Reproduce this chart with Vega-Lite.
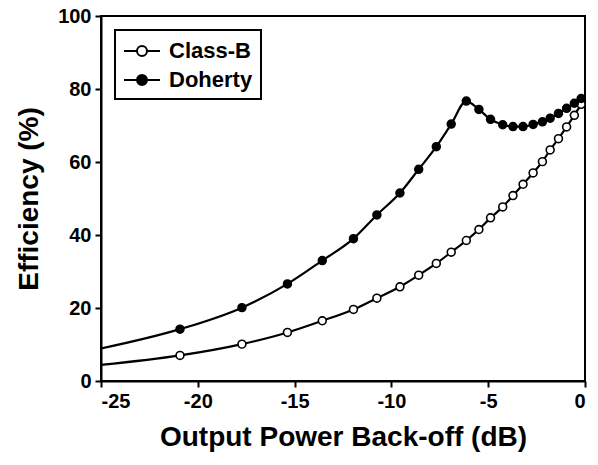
{
  "$schema": "https://vega.github.io/schema/vega-lite/v6.json",
  "width": 484,
  "height": 365,
  "autosize": {"type": "none"},
  "padding": {"left": 101, "top": 16, "right": 13, "bottom": 84},
  "background": "white",
  "config": {
    "font": "Liberation Sans",
    "view": {"stroke": "black", "strokeWidth": 2},
    "axis": {
      "grid": false,
      "domainColor": "black",
      "domainWidth": 2,
      "tickColor": "black",
      "tickWidth": 2,
      "tickSize": 6,
      "labelFont": "Liberation Sans",
      "labelFontWeight": "bold",
      "labelFontSize": 20,
      "labelColor": "black",
      "labelPadding": 4,
      "labelExpr": "toString(datum.value)",
      "titleFont": "Liberation Sans",
      "titleFontWeight": "bold",
      "titleFontSize": 28,
      "titleColor": "black"
    },
    "legend": {
      "padding": 8,
      "rowPadding": 5,
      "strokeColor": "black",
      "strokeWidth": 2,
      "fillColor": "white",
      "cornerRadius": 0,
      "symbolSize": 576,
      "symbolStrokeColor": "black",
      "symbolStrokeWidth": 2,
      "symbolOpacity": 1,
      "labelOffset": 20,
      "labelFont": "Liberation Sans",
      "labelFontWeight": "bold",
      "labelFontSize": 22,
      "labelColor": "black"
    }
  },
  "datasets": {
    "curves": [
      {"backoff": -25, "eff": 4.4, "series": "Class-B", "marker": false},
      {"backoff": -20.92, "eff": 7.0, "series": "Class-B", "marker": true},
      {"backoff": -17.72, "eff": 10.1, "series": "Class-B", "marker": true},
      {"backoff": -15.37, "eff": 13.3, "series": "Class-B", "marker": true},
      {"backoff": -13.57, "eff": 16.5, "series": "Class-B", "marker": true},
      {"backoff": -11.96, "eff": 19.6, "series": "Class-B", "marker": true},
      {"backoff": -10.75, "eff": 22.7, "series": "Class-B", "marker": true},
      {"backoff": -9.56, "eff": 25.8, "series": "Class-B", "marker": true},
      {"backoff": -8.59, "eff": 29.0, "series": "Class-B", "marker": true},
      {"backoff": -7.68, "eff": 32.2, "series": "Class-B", "marker": true},
      {"backoff": -6.91, "eff": 35.3, "series": "Class-B", "marker": true},
      {"backoff": -6.13, "eff": 38.5, "series": "Class-B", "marker": true},
      {"backoff": -5.48, "eff": 41.5, "series": "Class-B", "marker": true},
      {"backoff": -4.88, "eff": 44.7, "series": "Class-B", "marker": true},
      {"backoff": -4.25, "eff": 47.7, "series": "Class-B", "marker": true},
      {"backoff": -3.72, "eff": 50.8, "series": "Class-B", "marker": true},
      {"backoff": -3.2, "eff": 53.9, "series": "Class-B", "marker": true},
      {"backoff": -2.68, "eff": 57.0, "series": "Class-B", "marker": true},
      {"backoff": -2.2, "eff": 60.1, "series": "Class-B", "marker": true},
      {"backoff": -1.8, "eff": 63.3, "series": "Class-B", "marker": true},
      {"backoff": -1.37, "eff": 66.4, "series": "Class-B", "marker": true},
      {"backoff": -0.95, "eff": 69.6, "series": "Class-B", "marker": true},
      {"backoff": -0.55, "eff": 72.8, "series": "Class-B", "marker": true},
      {"backoff": -0.2, "eff": 75.8, "series": "Class-B", "marker": true},
      {"backoff": -25, "eff": 8.9, "series": "Doherty", "marker": false},
      {"backoff": -20.92, "eff": 14.2, "series": "Doherty", "marker": true},
      {"backoff": -17.72, "eff": 20.1, "series": "Doherty", "marker": true},
      {"backoff": -15.37, "eff": 26.6, "series": "Doherty", "marker": true},
      {"backoff": -13.57, "eff": 33.0, "series": "Doherty", "marker": true},
      {"backoff": -11.96, "eff": 39.0, "series": "Doherty", "marker": true},
      {"backoff": -10.75, "eff": 45.5, "series": "Doherty", "marker": true},
      {"backoff": -9.56, "eff": 51.5, "series": "Doherty", "marker": true},
      {"backoff": -8.59, "eff": 58.0, "series": "Doherty", "marker": true},
      {"backoff": -7.68, "eff": 64.2, "series": "Doherty", "marker": true},
      {"backoff": -6.91, "eff": 70.4, "series": "Doherty", "marker": true},
      {"backoff": -6.13, "eff": 76.7, "series": "Doherty", "marker": true},
      {"backoff": -5.48, "eff": 74.4, "series": "Doherty", "marker": true},
      {"backoff": -4.88, "eff": 71.7, "series": "Doherty", "marker": true},
      {"backoff": -4.25, "eff": 70.2, "series": "Doherty", "marker": true},
      {"backoff": -3.72, "eff": 69.7, "series": "Doherty", "marker": true},
      {"backoff": -3.2, "eff": 69.7, "series": "Doherty", "marker": true},
      {"backoff": -2.68, "eff": 70.3, "series": "Doherty", "marker": true},
      {"backoff": -2.2, "eff": 71.0, "series": "Doherty", "marker": true},
      {"backoff": -1.8, "eff": 72.0, "series": "Doherty", "marker": true},
      {"backoff": -1.37, "eff": 73.3, "series": "Doherty", "marker": true},
      {"backoff": -0.95, "eff": 74.7, "series": "Doherty", "marker": true},
      {"backoff": -0.55, "eff": 76.1, "series": "Doherty", "marker": true},
      {"backoff": -0.2, "eff": 77.4, "series": "Doherty", "marker": true}
    ]
  },
  "data": {"name": "curves"},
  "encoding": {
    "x": {
      "field": "backoff",
      "type": "quantitative",
      "scale": {"domain": [-25, 0], "nice": false, "zero": false},
      "axis": {"values": [-25, -20, -15, -10, -5, 0], "title": "Output Power Back-off (dB)", "titlePadding": 12}
    },
    "y": {
      "field": "eff",
      "type": "quantitative",
      "scale": {"domain": [0, 100], "nice": false},
      "axis": {"values": [0, 20, 40, 60, 80, 100], "title": "Efficiency (%)", "titlePadding": 14}
    }
  },
  "layer": [
    {
      "mark": {"type": "line", "color": "black", "strokeWidth": 2.2, "interpolate": "monotone"},
      "encoding": {"detail": {"field": "series", "type": "nominal"}}
    },
    {
      "transform": [{"filter": "datum.marker"}],
      "mark": {"type": "point", "filled": true, "stroke": "black", "strokeWidth": 1.6, "size": 62, "opacity": 1},
      "encoding": {
        "fill": {
          "field": "series",
          "type": "nominal",
          "scale": {"domain": ["Class-B", "Doherty"], "range": ["white", "black"]},
          "legend": {
            "title": null,
            "orient": "none",
            "legendX": 14,
            "legendY": 14,
            "symbolType": "M-1,0L0.0833,0M0.9167,0L2,0M0.0833,0A0.4167,0.4167,0,1,0,0.9167,0A0.4167,0.4167,0,1,0,0.0833,0"
          }
        }
      }
    }
  ]
}
